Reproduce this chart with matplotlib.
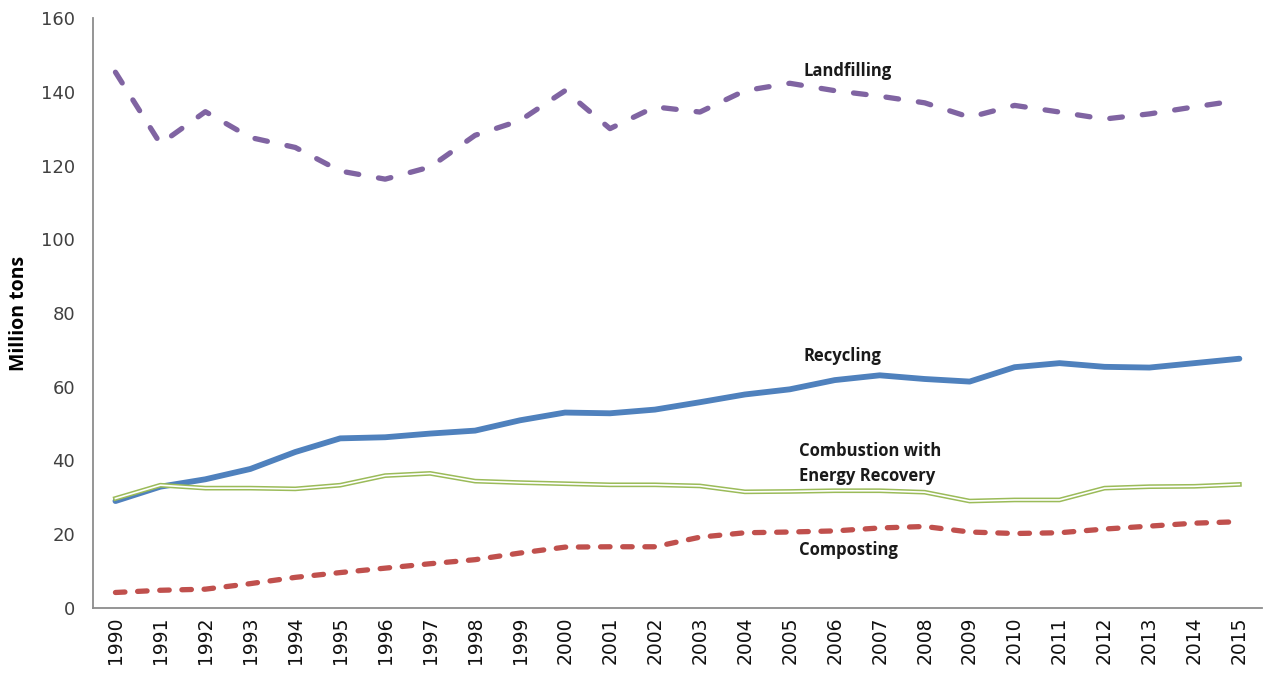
import matplotlib
matplotlib.use("Agg")
import matplotlib.pyplot as plt

years = [str(y) for y in range(1990, 2016)]
landfilling = [145.3, 125.9, 134.6, 127.6, 124.9, 118.5, 116.3, 119.6, 128.2, 132.2,
               140.3, 130.0, 135.9, 134.5, 140.3, 142.3, 140.3, 138.8, 137.0, 133.1,
               136.3, 134.5, 132.6, 134.0, 135.9, 137.7]
recycling = [29.0, 32.9, 34.9, 37.7, 42.3, 46.0, 46.3, 47.3, 48.1, 50.9,
             53.0, 52.8, 53.8, 55.8, 57.9, 59.3, 61.8, 63.1, 62.1, 61.4,
             65.3, 66.4, 65.4, 65.2, 66.4, 67.6]
combustion = [29.7, 33.3, 32.5, 32.5, 32.3, 33.3, 35.9, 36.5, 34.4, 34.0,
              33.7, 33.4, 33.4, 33.1, 31.5, 31.6, 31.8, 31.8, 31.4, 29.0,
              29.3, 29.3, 32.5, 32.9, 33.0, 33.5]
composting = [4.2, 4.8, 5.1, 6.6, 8.3, 9.6, 10.8, 12.0, 13.1, 14.9,
              16.5, 16.6, 16.6, 19.2, 20.4, 20.6, 20.9, 21.7, 22.1, 20.6,
              20.2, 20.4, 21.4, 22.2, 23.0, 23.4]

yticks = [0, 20, 40, 60, 80, 100, 120, 140, 160]
labels = {"Landfilling": (15.3, 145.6),
          "Recycling": (15.3, 68.4),
          "Combustion with\nEnergy Recovery": (15.2, 39.3),
          "Composting": (15.2, 15.7)}

fig = plt.figure(figsize=(12.65, 6.75), dpi=100)
ax = fig.add_axes([0.0735, 0.0993, 0.924, 0.874])
x = list(range(len(years)))

ax.plot(x, landfilling, color="#8064A2", lw=3.8, dashes=(2.4, 3.8),
        dash_capstyle="round", dash_joinstyle="round")
ax.plot(x, recycling, color="#4F81BD", lw=4.2, solid_capstyle="round",
        solid_joinstyle="round")
ax.plot(x, combustion, color="#9BBB59", lw=3.4, solid_joinstyle="round")
ax.plot(x, combustion, color="white", lw=1.2, solid_joinstyle="round")
ax.plot(x, composting, color="#C0504D", lw=3.8, dashes=(1.8, 2.4),
        dash_capstyle="round", dash_joinstyle="round")

for txt, (xx, yy) in labels.items():
    ax.text(xx, yy, txt, fontsize=12, fontweight="bold",
            family=["Open Sans", "DejaVu Sans"], ha="left", va="center",
            color="#1a1a1a", linespacing=1.5)

ax.set_xlim(-0.5, len(years) - 0.5)
ax.set_ylim(0, 160)
ax.set_yticks(yticks)
ax.set_yticklabels([str(v) for v in yticks], fontsize=13,
                   family=["DejaVu Sans"], color="#404040")
ax.set_xticks(x)
ax.set_xticklabels(years, rotation=90, fontsize=13.5,
                   family=["Liberation Sans Narrow", "DejaVu Sans"], color="#111111")
ax.tick_params(axis="both", length=0)
ax.tick_params(axis="x", pad=6)
ax.tick_params(axis="y", pad=13)
ax.set_ylabel("Million tons", fontsize=14, fontweight="bold",
              family=["Open Sans", "DejaVu Sans"])
ax.yaxis.set_label_coords(-0.055, 0.5)
for s in ["top", "right"]:
    ax.spines[s].set_visible(False)
for s in ["left", "bottom"]:
    ax.spines[s].set_color("#8c8c8c")
    ax.spines[s].set_linewidth(1.3)

fig.savefig("out.png", dpi=100)
